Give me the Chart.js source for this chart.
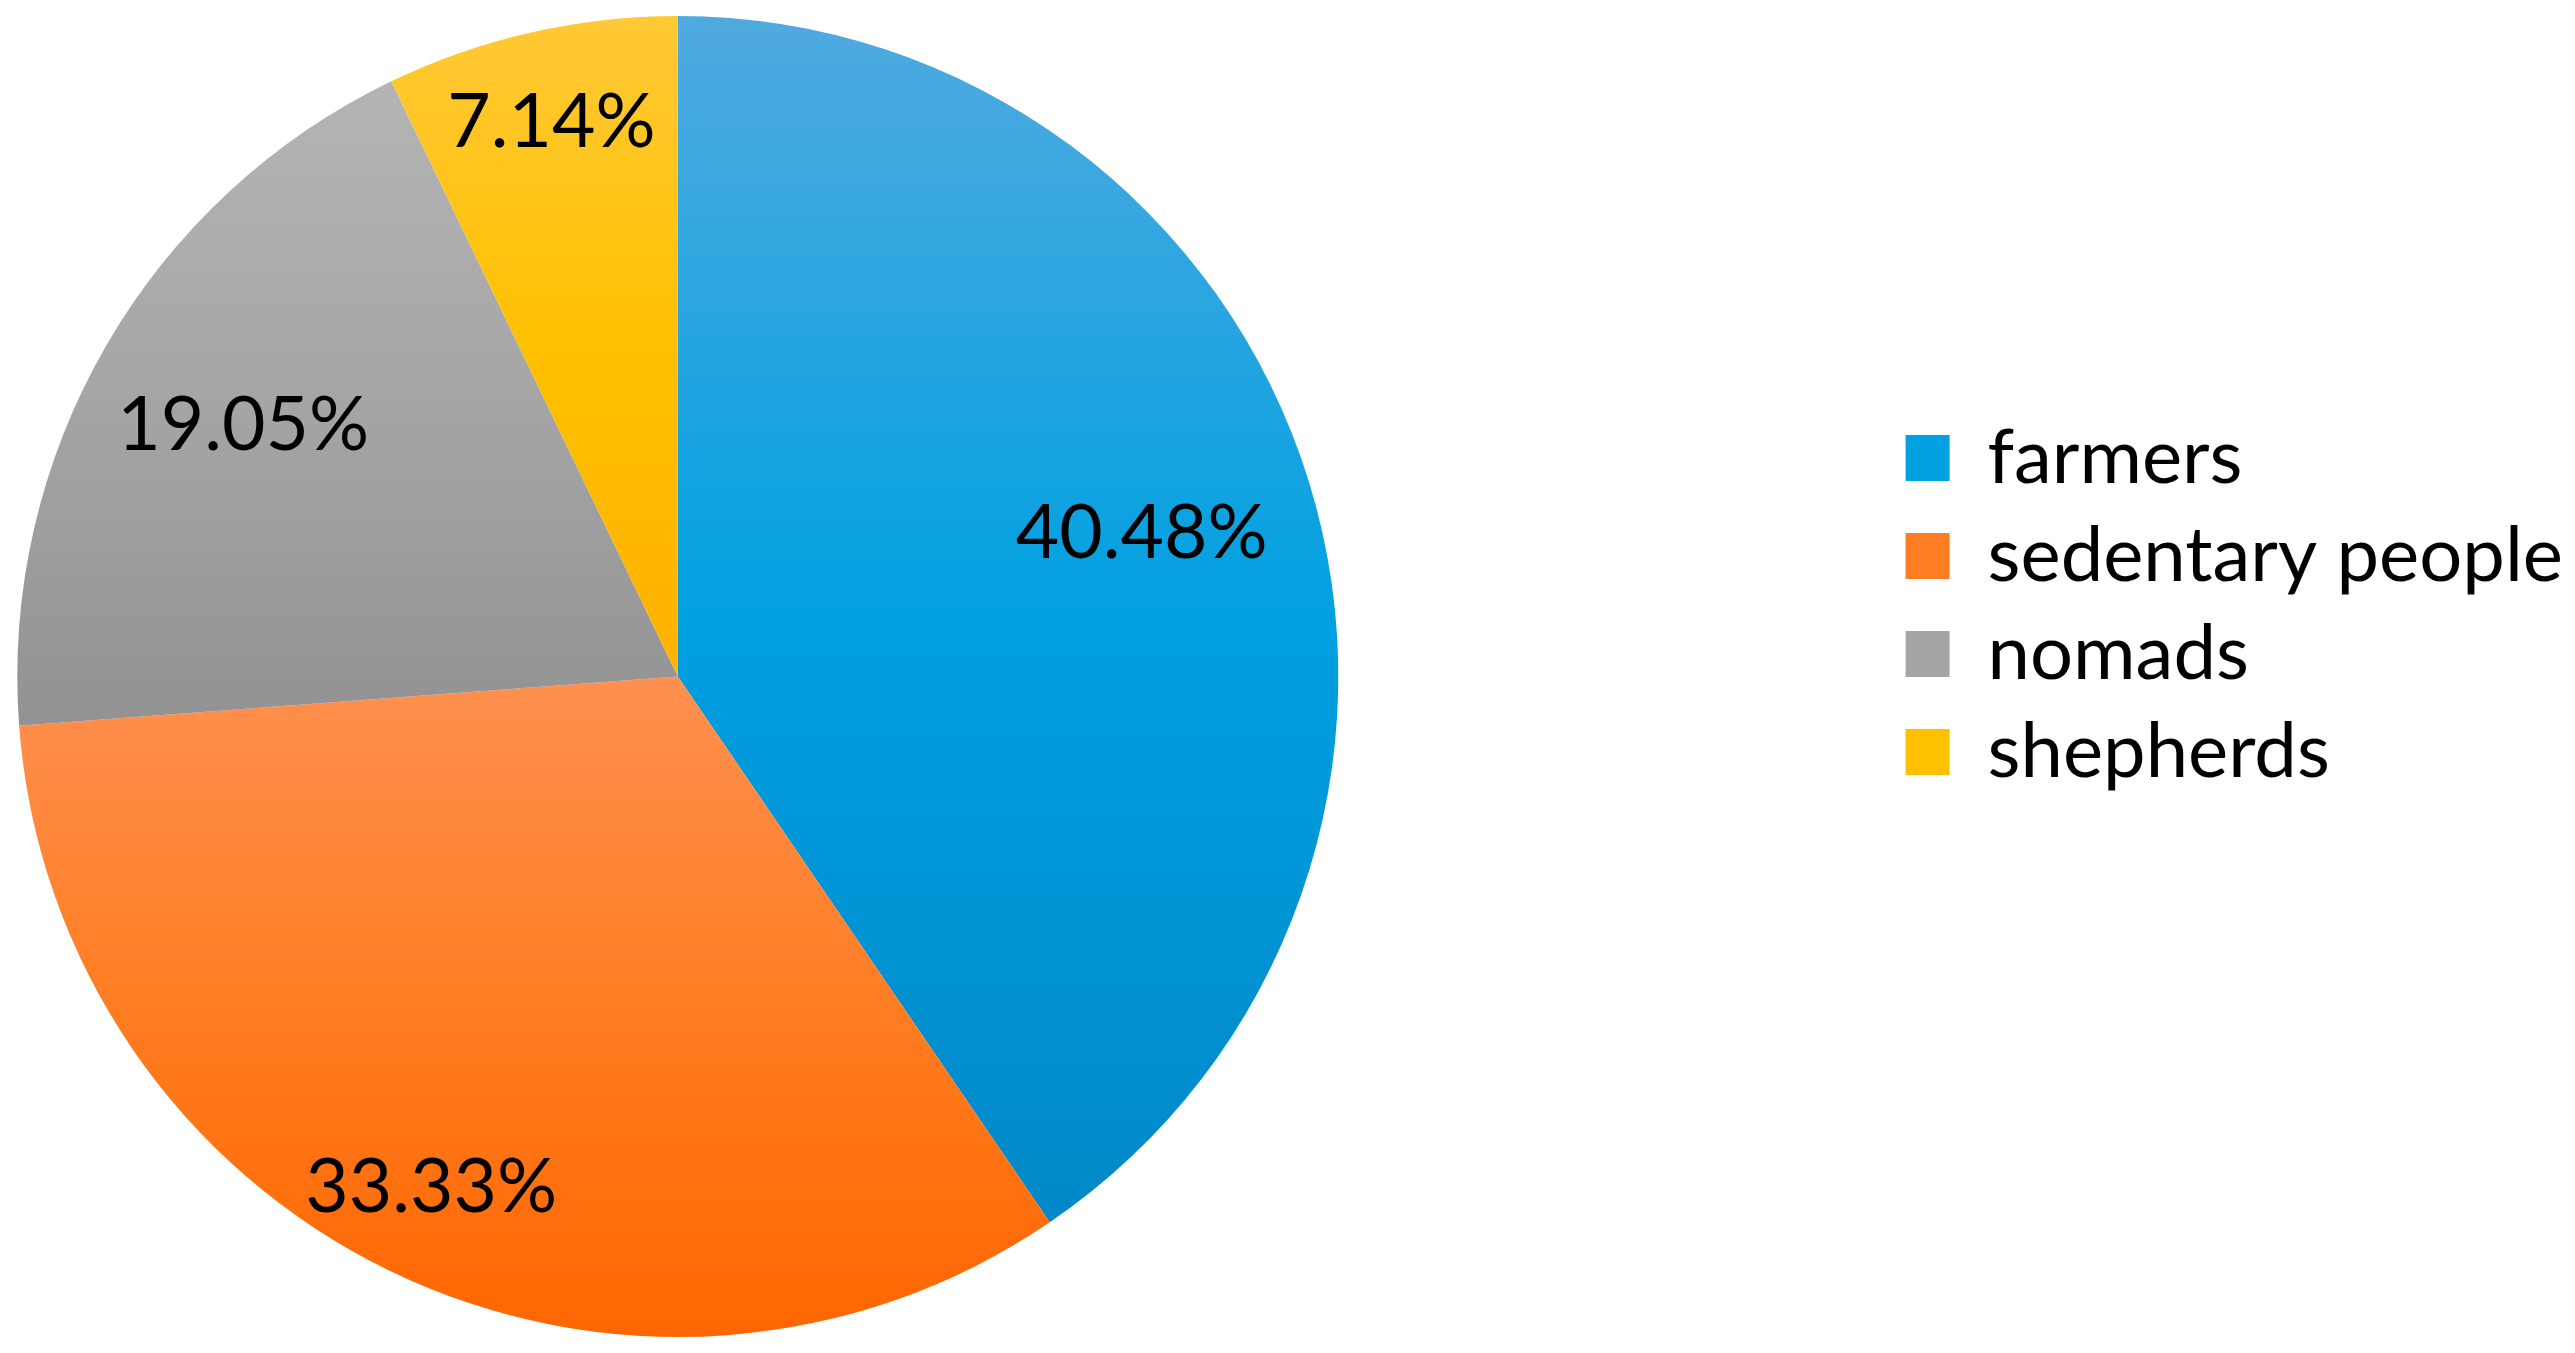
<!DOCTYPE html>
<html>
<head>
<meta charset="utf-8">
<script src="https://cdn.jsdelivr.net/npm/chart.js@4/dist/chart.umd.min.js"></script>
<style>
  html, body { margin: 0; padding: 0; background: #fff; }
  canvas { display: block; }
</style>
</head>
<body>
<canvas id="pie" width="2575" height="1353"></canvas>
<script>
const groups = ['farmers', 'sedentary people', 'nomads', 'shepherds'];
const shares = [40.48, 33.33, 19.05, 7.14];

// light top -> base -> darker bottom, like the office gradient fill
const tints = ['#50aadf', '#ff9050', '#b4b4b4', '#ffc936'];
const baseColors = ['#00a0e1', '#ff7d22', '#a5a5a5', '#ffc000'];
const shades = ['#0088c8', '#ff6600', '#929292', '#ffb200'];
// where each percentage sits, as a fraction of the radius
const labelRadius = [0.735, 0.86, 0.76, 0.86];

const FONT = 'Lato, "Open Sans", sans-serif';

function sliceGradient(c) {
  const i = c.dataIndex;
  const area = c.chart.chartArea;
  if (!area || i === undefined) return baseColors[i];
  const cx = (area.left + area.right) / 2;
  const cy = (area.top + area.bottom) / 2;
  const r = Math.min(area.right - area.left, area.bottom - area.top) / 2;
  const total = shares.reduce((a, b) => a + b, 0);
  const before = shares.slice(0, i).reduce((a, b) => a + b, 0);
  const start = -Math.PI / 2 + before / total * 2 * Math.PI;
  const end = start + shares[i] / total * 2 * Math.PI;
  const ys = [cy, cy + r * Math.sin(start), cy + r * Math.sin(end)];
  [-Math.PI / 2, Math.PI / 2, 3 * Math.PI / 2].forEach(a => {
    if (a >= start && a <= end) ys.push(cy + r * Math.sin(a));
  });
  const g = c.chart.ctx.createLinearGradient(0, Math.min(...ys), 0, Math.max(...ys));
  g.addColorStop(0, tints[i]);
  g.addColorStop(0.5, baseColors[i]);
  g.addColorStop(1, shades[i]);
  return g;
}

const percentLabels = {
  id: 'percentLabels',
  afterDatasetsDraw(chart) {
    const ctx = chart.ctx;
    const meta = chart.getDatasetMeta(0);
    ctx.save();
    ctx.font = '75px ' + FONT;
    ctx.fillStyle = '#000';
    ctx.textAlign = 'center';
    ctx.textBaseline = 'middle';
    meta.data.forEach((arc, i) => {
      const p = arc.getProps(['x', 'y', 'startAngle', 'endAngle', 'outerRadius'], true);
      const mid = (p.startAngle + p.endAngle) / 2;
      const r = p.outerRadius * labelRadius[i];
      ctx.fillText(shares[i].toFixed(2) + '%', p.x + Math.cos(mid) * r, p.y + Math.sin(mid) * r);
    });
    ctx.restore();
  }
};

new Chart(document.getElementById('pie'), {
  type: 'pie',
  data: {
    labels: groups,
    datasets: [{
      data: shares,
      backgroundColor: sliceGradient,
      borderWidth: 0
    }]
  },
  options: {
    responsive: false,
    animation: false,
    layout: { padding: { left: 16, top: 16, bottom: 16, right: 2 } },
    plugins: {
      tooltip: { enabled: false },
      // empty title on the right, used as the gap between pie and legend
      title: {
        display: true,
        text: '',
        position: 'right',
        weight: 500,
        font: { size: 10, lineHeight: 1 },
        padding: { top: 0, bottom: 534 }
      },
      legend: {
        position: 'right',
        align: 'start',
        maxWidth: 900,
        title: {
          display: true,
          text: '',
          font: { size: 10, lineHeight: 1 },
          padding: { top: 0, bottom: 372 }
        },
        labels: {
          boxWidth: 44,
          boxHeight: 46,
          padding: 22,
          color: '#000',
          font: { family: FONT, size: 76 },
          generateLabels(chart) {
            return groups.map((g, i) => ({
              text: g,
              fillStyle: baseColors[i],
              strokeStyle: baseColors[i],
              fontColor: '#000',
              lineWidth: 0,
              index: i
            }));
          }
        }
      }
    }
  },
  plugins: [percentLabels]
});
</script>
</body>
</html>
